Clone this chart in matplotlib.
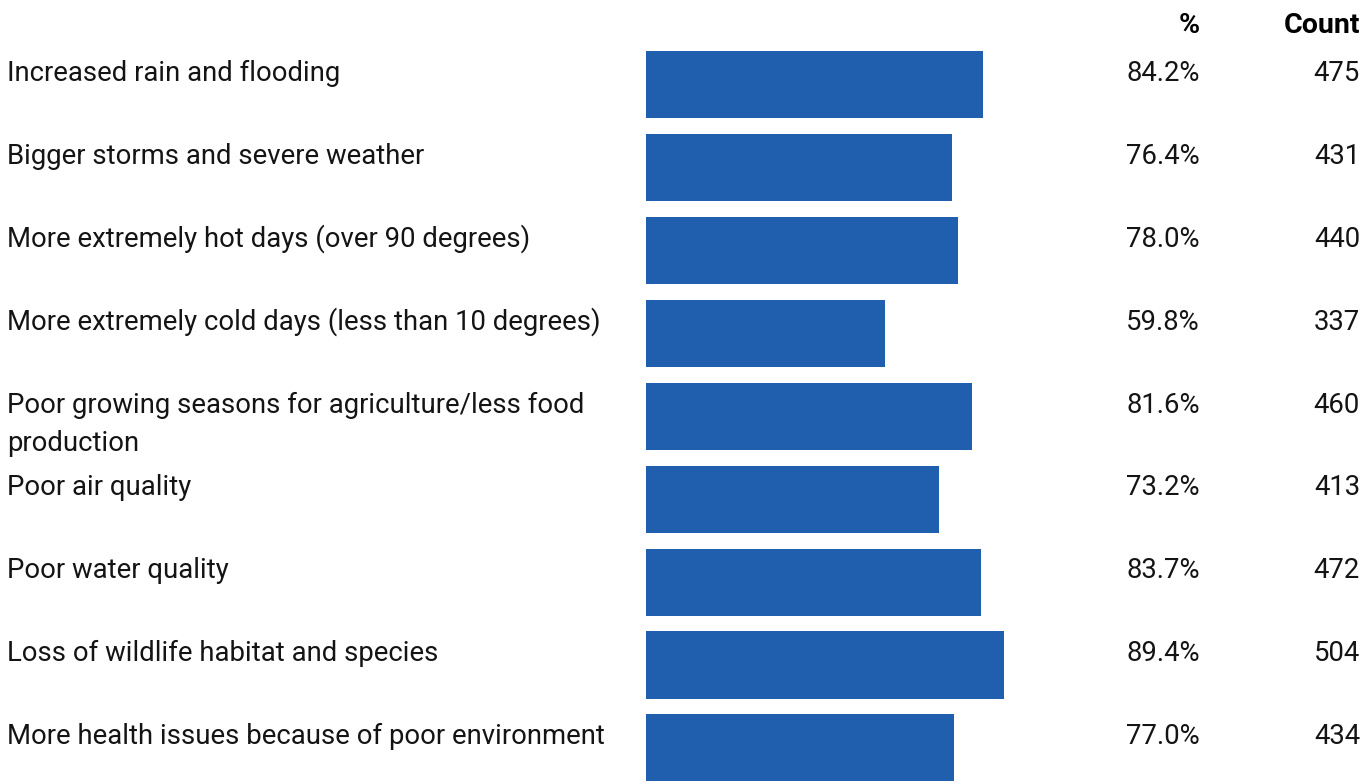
import matplotlib.pyplot as plt
import matplotlib.transforms as mtransforms

# Survey data
categories = ['Increased rain and flooding',
              'Bigger storms and severe weather',
              'More extremely hot days (over 90 degrees)',
              'More extremely cold days (less than 10 degrees)',
              'Poor growing seasons for agriculture/less food\nproduction',
              'Poor air quality',
              'Poor water quality',
              'Loss of wildlife habitat and species',
              'More health issues because of poor environment']
percents = [84.2, 76.4, 78.0, 59.8, 81.6, 73.2, 83.7, 89.4, 77.0]
counts = [475, 431, 440, 337, 460, 413, 472, 504, 434]

plt.rcParams['font.family'] = ['Roboto', 'DejaVu Sans']
TXT = '#141414'
BLUE = '#1f5fad'

W, H = 1372, 781
fig = plt.figure(figsize=(W / 100, H / 100), dpi=100)

# bar axes: 0-100% spans 400 px starting at x=646
top_px, bot_px = 43.0, 789.5
ax = fig.add_axes([646 / W, 1 - bot_px / H, 400 / W, (bot_px - top_px) / H])
rows = list(range(len(categories)))
ax.barh(rows, percents, height=0.81, color=BLUE)
ax.set_xlim(0, 100)
ax.set_ylim(len(categories) - 0.5, -0.5)
ax.axis('off')

trans = mtransforms.blended_transform_factory(fig.transFigure, ax.transData)
fs = 19.8
line_step = 38 / 82.94  # second line of a wrapped label
for i in rows:
    y = i - 0.045
    for k, line in enumerate(categories[i].split('\n')):
        ax.text(7 / W, y + k * line_step, line, transform=trans, ha='left',
                va='baseline', fontsize=fs, color=TXT)
    ax.text(1200 / W, y, f'{percents[i]:.1f}%', transform=trans, ha='right',
            va='baseline', fontsize=fs, color=TXT)
    ax.text(1360 / W, y, f'{counts[i]}', transform=trans, ha='right',
            va='baseline', fontsize=fs, color=TXT)

fig.text(1200 / W, 1 - 33 / H, '%', ha='right', va='baseline', fontsize=20.5,
         fontweight='bold', color='black')
fig.text(1360 / W, 1 - 33 / H, 'Count', ha='right', va='baseline', fontsize=20.5,
         fontweight='bold', color='black')

fig.savefig('out.png', dpi=100)
